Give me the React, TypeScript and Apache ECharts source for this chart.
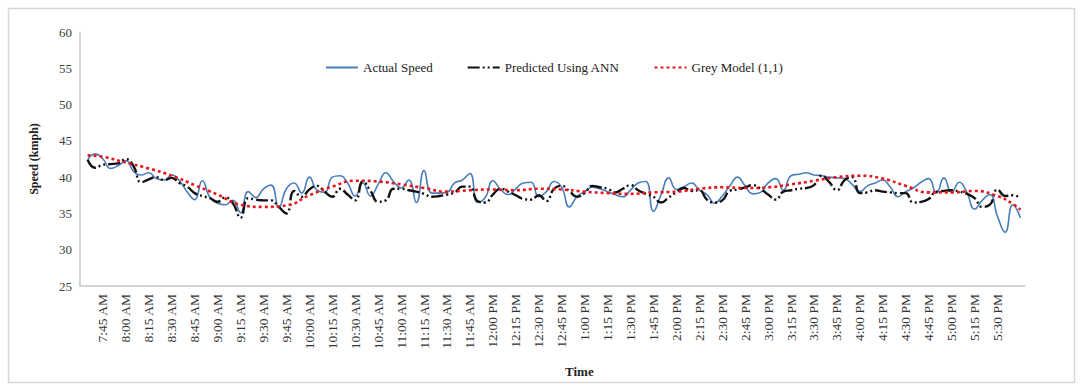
import React, { useEffect, useRef } from "react";
import * as echarts from "echarts";

// x-axis tick labels (every 15 minutes, starting 7:45 AM)
const TICK_LABELS = [
  "7:45 AM", "8:00 AM", "8:15 AM", "8:30 AM", "8:45 AM", "9:00 AM", "9:15 AM", "9:30 AM",
  "9:45 AM", "10:00 AM", "10:15 AM", "10:30 AM", "10:45 AM", "11:00 AM", "11:15 AM", "11:30 AM",
  "11:45 AM", "12:00 PM", "12:15 PM", "12:30 PM", "12:45 PM", "1:00 PM", "1:15 PM", "1:30 PM",
  "1:45 PM", "2:00 PM", "2:15 PM", "2:30 PM", "2:45 PM", "3:00 PM", "3:15 PM", "3:30 PM",
  "3:45 PM", "4:00 PM", "4:15 PM", "4:30 PM", "4:45 PM", "5:00 PM", "5:15 PM", "5:30 PM",
];
const FIRST_TICK_MIN = 465; // 7:45 AM in minutes after midnight
const SAMPLE_START_MIN = 455; // 7:35 AM, first sample
const SAMPLE_STEP_MIN = 5;

// Actual speed (kmph), 5-minute samples from 7:35 AM
const ACTUAL_SPEED = [
  42.4, 43.2, 42.5, 41.2, 41.6, 42.3, 40.8, 40.3, 40.6, 39.8,
  39.6, 40.3, 39.5, 38.0, 36.9, 39.5, 37.2, 36.4, 36.2, 36.8,
  35.1, 38.0, 37.2, 38.4, 38.9, 35.8, 38.4, 39.2, 37.8, 40.0,
  38.2, 37.9, 40.0, 40.2, 39.2, 37.4, 39.2, 37.4, 39.0, 40.6,
  39.4, 38.5, 39.6, 36.5, 40.9, 37.8, 37.8, 37.9, 39.2, 39.6,
  40.5, 36.5, 37.2, 39.5, 38.3, 37.6, 38.4, 39.2, 39.3, 37.3,
  38.0, 39.4, 38.6, 35.9, 37.3, 38.0, 38.6, 38.4, 38.0, 37.6,
  37.3, 38.2, 39.2, 39.4, 35.3, 37.6, 39.9, 38.3, 38.7, 39.2,
  38.2, 37.6, 36.4, 37.4, 38.8, 40.0, 38.8, 37.7, 37.9, 39.2,
  39.8, 38.2, 40.2, 40.4, 40.6, 40.3, 40.2, 40.0, 39.9, 39.8,
  39.0, 38.0, 38.8, 39.2, 39.6, 38.6, 37.3, 38.0, 38.5, 39.3,
  39.8, 37.8, 39.9, 37.9, 39.3, 37.9, 35.6, 36.8, 37.6, 34.6,
  32.4, 36.2, 34.4,
];

// Predicted using ANN (kmph), same 5-minute samples
const PREDICTED_ANN = [
  42.4, 41.3, 41.7, 41.8, 41.9, 42.5, 41.5, 39.3, 39.7, 40.0,
  39.6, 39.9, 39.2, 38.7, 37.8, 37.4, 37.1, 36.6, 37.2, 36.4,
  34.4, 37.1, 36.9, 36.8, 36.8, 35.9, 35.0, 38.1, 37.3, 38.3,
  38.8, 38.0, 37.3, 38.4, 37.6, 36.8, 39.4, 38.1, 36.6, 36.8,
  38.4, 38.4, 38.2, 38.0, 37.7, 37.3, 37.4, 37.6, 37.9, 38.7,
  38.7, 36.7, 36.5, 37.6, 38.4, 38.0, 37.5, 37.0, 36.9, 37.5,
  36.7, 38.4, 38.8, 38.1, 37.3, 37.8, 38.8, 38.6, 38.4, 37.9,
  38.4, 38.9, 38.2, 37.7, 37.3, 36.5, 37.2, 37.9, 38.5, 38.1,
  38.2, 36.9, 36.5, 36.8, 38.1, 38.3, 38.6, 38.9, 38.4, 37.6,
  36.9, 38.0, 38.2, 38.4, 38.5, 38.9, 40.2, 39.3, 38.2, 39.6,
  40.0, 37.8, 37.9, 38.2, 38.0, 37.9, 37.8, 37.8, 36.5, 36.6,
  37.0, 38.0, 38.1, 38.2, 38.0, 37.7, 37.1, 35.9, 36.2, 38.3,
  37.4, 37.5, 37.1,
];

// Grey Model (1,1) (kmph), sampled at these minutes after midnight
const GREY_TIMES = [
  455, 465, 480, 495, 510, 525, 540, 555, 570, 585, 600, 615, 630, 645, 660, 675,
  690, 705, 720, 735, 750, 765, 780, 795, 810, 825, 840, 855, 870, 885, 900, 915,
  930, 945, 960, 975, 990, 1005, 1020, 1035, 1050, 1060, 1065,
];
const GREY_MODEL = [
  43.0, 42.8, 42.0, 41.2, 40.2, 38.9, 37.6, 36.2, 35.9, 36.1, 37.5, 38.7, 39.5, 39.4, 39.0, 38.5,
  38.0, 38.2, 38.3, 38.2, 38.4, 38.3, 38.0, 37.8, 37.7, 37.9, 38.0, 38.4, 38.6, 38.5, 38.6, 39.0,
  39.5, 40.0, 40.2, 39.8, 38.8, 37.9, 37.9, 38.1, 37.4, 36.3, 35.5,
];

const FONT = "'Liberation Serif', 'Times New Roman', serif";

export default function App() {
  const ref = useRef<HTMLDivElement>(null);

  useEffect(() => {
    if (!ref.current) return;
    const chart = echarts.init(ref.current, undefined, { renderer: "svg" });

    const sampleTime = (i: number) => SAMPLE_START_MIN + i * SAMPLE_STEP_MIN;
    const actual = ACTUAL_SPEED.map((v, i) => [sampleTime(i), v]);
    const ann = PREDICTED_ANN.map((v, i) => [sampleTime(i), v]);
    const grey = GREY_MODEL.map((v, i) => [GREY_TIMES[i], v]);

    chart.setOption({
      animation: false,
      backgroundColor: "#ffffff",
      textStyle: { fontFamily: FONT },
      grid: { left: 80, top: 32, right: 56, bottom: 99 },
      legend: {
        left: 320,
        top: 56,
        itemGap: 34,
        itemWidth: 32,
        itemHeight: 10,
        itemStyle: { opacity: 0, borderWidth: 0 },
        textStyle: { fontFamily: FONT, fontSize: 13, color: "#222" },
        data: ["Actual Speed", "Predicted Using ANN", "Grey Model (1,1)"],
      },
      xAxis: {
        type: "value",
        min: 450,
        max: 1068,
        interval: 15,
        axisLine: { show: true, lineStyle: { color: "#c8c8c8", width: 1.5 } },
        axisTick: { show: false },
        splitLine: { show: false },
        axisLabel: {
          rotate: 90,
          margin: 8,
          fontFamily: FONT,
          fontSize: 13.5,
          color: "#333",
          showMinLabel: true,
          showMaxLabel: true,
          formatter: (v: number) => {
            const k = Math.round((v - FIRST_TICK_MIN) / 15);
            if (k < 0 || k >= TICK_LABELS.length) return "";
            if (Math.abs(v - (FIRST_TICK_MIN + 15 * k)) > 0.01) return "";
            return TICK_LABELS[k];
          },
        },
      },
      yAxis: {
        type: "value",
        min: 25,
        max: 60,
        interval: 5,
        name: "Speed (kmph)",
        nameLocation: "middle",
        nameGap: 40,
        nameTextStyle: { fontFamily: FONT, fontSize: 12, fontWeight: "bold", color: "#222" },
        axisLine: { show: true, lineStyle: { color: "#c8c8c8", width: 1.5 } },
        axisTick: { show: false },
        splitLine: { show: false },
        axisLabel: { fontFamily: FONT, fontSize: 13, color: "#404040", margin: 8 },
      },
      graphic: [
        {
          type: "rect",
          shape: { x: 8.5, y: 8.5, width: 1066, height: 374 },
          style: { fill: "none", stroke: "#d6d6d6", lineWidth: 1.5 },
          silent: true,
        },
        {
          type: "text",
          left: 565,
          top: 365,
          style: { text: "Time", font: `bold 13px ${FONT}`, fill: "#222" },
        },
      ],
      series: [
        {
          name: "Actual Speed",
          type: "line",
          data: actual,
          smooth: true,
          showSymbol: false,
          symbol: "none",
          color: "#4a7ebb",
          lineStyle: { color: "#4a7ebb", width: 1.6 },
          z: 2,
        },
        {
          name: "Predicted Using ANN",
          type: "line",
          data: ann,
          smooth: true,
          showSymbol: false,
          symbol: "none",
          color: "#111",
          lineStyle: { color: "#111", width: 2.4, type: [12, 3, 2, 3, 2, 3] },
          z: 3,
        },
        {
          name: "Grey Model (1,1)",
          type: "line",
          data: grey,
          smooth: true,
          showSymbol: false,
          symbol: "none",
          color: "#e8161c",
          lineStyle: { color: "#e8161c", width: 2.6, type: [3, 3] },
          z: 4,
        },
      ],
    });

    return () => chart.dispose();
  }, []);

  return (
    <div
      ref={ref}
      style={{ position: "absolute", left: 0, top: 0, width: 1081, height: 385 }}
    />
  );
}
